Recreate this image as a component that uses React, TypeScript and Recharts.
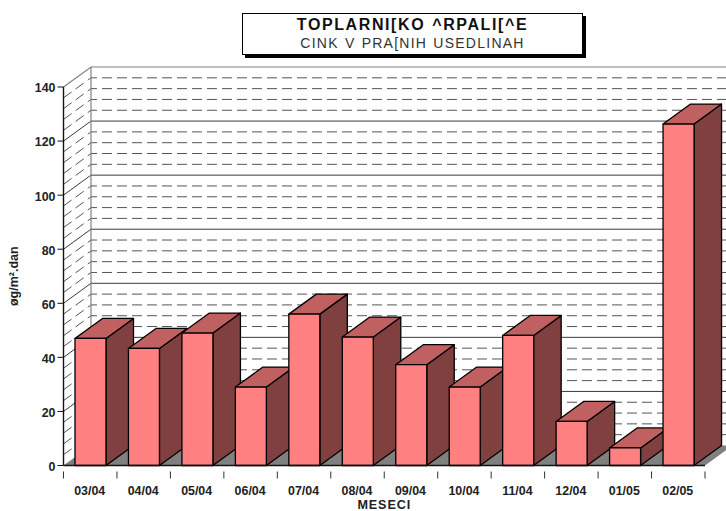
import { Bar, BarChart, CartesianGrid, XAxis, YAxis } from "recharts"

const MONTHS = ["03/04", "04/04", "05/04", "06/04", "07/04", "08/04", "09/04", "10/04", "11/04", "12/04", "01/05", "02/05"]
const ZINC = [47, 43.3, 49, 29, 56, 47.5, 37.3, 29, 48.1, 16.3, 6.5, 126.3]
const Y_TICKS = [0, 20, 40, 60, 80, 100, 120, 140]
const GRID_VALUES = [0, 4, 8, 12, 16, 20, 24, 28, 32, 36, 40, 44, 48, 52, 56, 60, 64, 68, 72, 76, 80, 84, 88, 92, 96, 100, 104, 108, 112, 116, 120, 124, 128, 132, 136, 140]

const chartData = MONTHS.map((month, i) => ({ month, zinc: ZINC[i] }))

const FONT = "'Liberation Sans', Arial, sans-serif"
const DEPTH_X = 27.5
const DEPTH_Y = 20
const BAND = 53.46
const WIDTH = 726

// front wall line -> slant to the back wall -> across the back wall
function WallLine(props: any) {
  const { x1, x2, y1, index } = props
  const value = GRID_VALUES[index]
  const bx = x1 + DEPTH_X
  const by = y1 - DEPTH_Y
  const major = value % 20 === 0
  const path = `M${x1},${y1}L${bx},${by}L${WIDTH},${by}`

  if (value === 0) {
    return (
      <polygon
        key="floor"
        points={`${x1},${y1} ${bx},${by} ${x2 + DEPTH_X},${by} ${x2},${y1}`}
        fill="#808080"
      />
    )
  }
  if (value === 140) {
    return (
      <g key="top">
        <path d={path} fill="none" stroke="#808080" strokeWidth={1.2} />
        <line x1={bx} y1={by} x2={bx} y2={by + (y1 > 0 ? 378.5 : 0)} stroke="#808080" strokeWidth={1.2} />
      </g>
    )
  }
  return (
    <path
      key={value}
      d={path}
      fill="none"
      stroke={major ? "#3a3a3a" : "#555"}
      strokeWidth={1}
      strokeDasharray={major ? undefined : "10 5"}
    />
  )
}

function Box3D(props: any) {
  const { y, width, height } = props
  const x = props.x + 0.5
  const r = x + width
  const b = y + height
  const stroke = { stroke: "#000", strokeWidth: 1.3, strokeLinejoin: "round" as const }
  return (
    <g>
      <polygon points={`${r},${y} ${r + DEPTH_X},${y - DEPTH_Y} ${r + DEPTH_X},${b - DEPTH_Y} ${r},${b}`} fill="#804040" {...stroke} />
      <polygon points={`${x},${y} ${x + DEPTH_X},${y - DEPTH_Y} ${r + DEPTH_X},${y - DEPTH_Y} ${r},${y}`} fill="#C06060" {...stroke} />
      <rect x={x} y={y} width={width} height={height} fill="#FF8080" {...stroke} />
    </g>
  )
}

function MonthTick(props: any) {
  const { x, y, index, payload } = props
  const left = x - BAND / 2
  return (
    <g>
      <line x1={left} y1={y} x2={left} y2={y + 7} stroke="#333" strokeWidth={1} />
      {index === MONTHS.length - 1 && (
        <line x1={left + BAND} y1={y} x2={left + BAND} y2={y + 7} stroke="#333" strokeWidth={1} />
      )}
      <text x={x - 0.5} y={y + 23} textAnchor="middle" fontSize={12.4} fontWeight="bold" fontFamily={FONT} fill="#222">
        {payload.value}
      </text>
    </g>
  )
}

export default function App() {
  return (
    <div style={{ position: "absolute", left: 0, top: 0, width: 726, height: 511, background: "#fff", overflow: "hidden" }}>
      <BarChart
        width={726}
        height={511}
        data={chartData}
        margin={{ top: 87, right: 21, bottom: 0, left: 0 }}
        barSize={31}
      >
        <CartesianGrid horizontal={WallLine} vertical={false} horizontalValues={GRID_VALUES} />
        <XAxis
          dataKey="month"
          interval={0}
          height={45.5}
          tickLine={false}
          tickMargin={0}
          tick={MonthTick}
          axisLine={{ stroke: "#111", strokeWidth: 1.6 }}
          label={{ value: "MESECI", position: "insideBottom", offset: 0, dy: -2, fontSize: 12.6, fontWeight: "bold", letterSpacing: 0.9, fontFamily: FONT, fill: "#222" }}
        />
        <YAxis
          width={63.5}
          domain={[0, 140]}
          ticks={Y_TICKS}
          interval={0}
          tickSize={6}
          tickMargin={2}
          tick={{ fontSize: 12.4, fontWeight: "bold", fontFamily: FONT, fill: "#222", dy: 1 }}
          tickLine={{ stroke: "#111" }}
          axisLine={{ stroke: "#111", strokeWidth: 1.4 }}
          label={{ value: "øg/m².dan", angle: -90, position: "insideLeft", offset: 14, textAnchor: "middle", fontSize: 12.5, fontWeight: "bold", fontFamily: FONT, fill: "#222" }}
        />
        <Bar dataKey="zinc" shape={Box3D} isAnimationActive={false} />
      </BarChart>
      <div
        style={{
          position: "absolute",
          left: 242,
          top: 13,
          width: 341,
          height: 42,
          boxSizing: "border-box",
          border: "1px solid #000",
          boxShadow: "3px 3px 0 #000",
          background: "#fff",
          textAlign: "center",
          fontFamily: FONT,
          color: "#111",
        }}
      >
        <div style={{ fontSize: 16, fontWeight: "bold", letterSpacing: 1.6, wordSpacing: 1, lineHeight: "19px", marginTop: 1 }}>TOPLARNI[KO ^RPALI[^E</div>
        <div style={{ fontSize: 14, letterSpacing: 1.25, wordSpacing: 1, lineHeight: "19px", color: "#333" }}>CINK V PRA[NIH USEDLINAH</div>
      </div>
    </div>
  )
}
